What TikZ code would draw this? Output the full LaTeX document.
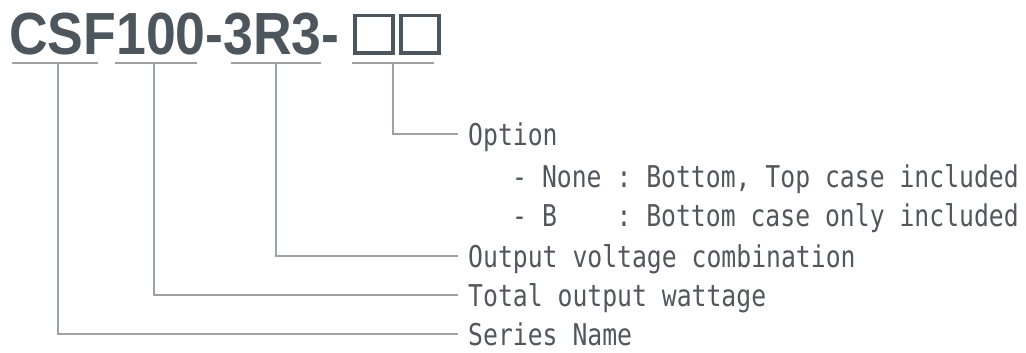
\documentclass[tikz,border=0pt]{standalone}
\usepackage{fontspec}
\newfontfamily\titlefont[FakeStretch=0.9]{Liberation Sans}
\newfontfamily\partfont[FakeStretch=0.825]{DejaVu Sans Mono}
\frenchspacing

\definecolor{titlegray}{HTML}{4E565D}
\definecolor{linegray}{HTML}{9CA2A6}
\definecolor{textgray}{HTML}{51575C}

\tikzset{
  uline/.style={line width=1.3pt,color=linegray},
  conn/.style={line width=1.2pt,color=linegray},
  part/.style={font=\partfont\fontsize{30}{30}\selectfont,text=textgray,inner xsep=10pt,inner ysep=0pt,text height=22pt,text depth=0pt,anchor=base west},
  slot/.style={draw=titlegray,line width=3.5pt,minimum width=38pt,minimum height=37.5pt,inner sep=0pt}
}

\begin{document}
\begin{tikzpicture}[x=1pt,y=-1pt]

\useasboundingbox (0,0) rectangle (1026,353);

\node[font=\titlefont\bfseries\fontsize{59.5}{60}\selectfont,text=titlegray,inner sep=0pt,anchor=base west] (code) at (9,55) {CSF100-3R3-};
\node[slot] (slota) at (374,34.5) {};
\node[slot] (slotb) at (420,34.5) {};

\draw[uline] (12,63)--(98,63);
\draw[uline] (115,63)--(197,63);
\draw[uline] (231,63)--(321,63);
\draw[uline] (352,63)--(434,63);

\coordinate (series) at (58,63);
\coordinate (watt) at (154,63);
\coordinate (volt) at (276,63);
\coordinate (opt) at (393,63);

\node[part] (optname) at (458,145) {Option};
\node[part] (optnone) at (502,187) {- None : Bottom, Top case included};
\node[part] (optb) at (502,226) {- B\ \ \ \ : Bottom case only included};
\node[part] (voltname) at (458,267) {Output voltage combination};
\node[part] (wattname) at (458,306) {Total output wattage};
\node[part] (seriesname) at (458,345) {Series Name};

\draw[conn] (opt) |- (optname.west);
\draw[conn] (volt) |- (voltname.west);
\draw[conn] (watt) |- (wattname.west);
\draw[conn] (series) |- (seriesname.west);

\end{tikzpicture}
\end{document}
